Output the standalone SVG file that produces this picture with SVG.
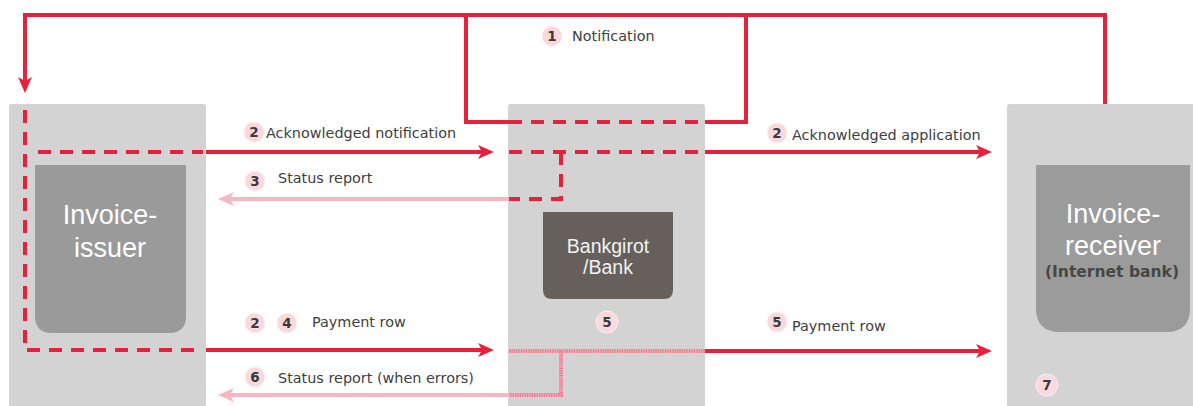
<svg xmlns="http://www.w3.org/2000/svg" width="1193" height="406" viewBox="0 0 1193 406">
<style>
.lane{fill:#d4d3d4}
.red{fill:none;stroke:#e5223b;stroke-width:4}
.dash{fill:none;stroke:#e5223b;stroke-width:4;stroke-dasharray:13 9}
.pink{fill:none;stroke:#f7b7c2;stroke-width:4}
.hatchbg{fill:none;stroke:#f4b0bc;stroke-width:4}
.hatch{fill:none;stroke:#e97b8e;stroke-width:4;stroke-dasharray:1.2 1.2}
.lbl{font-family:"DejaVu Sans",sans-serif;font-size:14.4px;fill:#404040}
.num{font-family:"DejaVu Sans",sans-serif;font-size:13.5px;font-weight:bold;fill:#3a3a3a;text-anchor:middle}
.badge{fill:#f9d8de;stroke:#fdf0f2;stroke-width:1}
.big{font-family:"Liberation Sans",Arial,sans-serif;font-size:27px;fill:#ffffff;text-anchor:middle}
.bank{font-family:"Liberation Sans",Arial,sans-serif;font-size:19.5px;fill:#f2f2f2;text-anchor:middle}
</style>
<defs>
<marker id="ar" markerUnits="userSpaceOnUse" markerWidth="18" markerHeight="16" refX="8" refY="8" orient="auto">
<path d="M0,1 L16,8 L0,15 L4,8 z" fill="#e5223b"/>
</marker>
<marker id="arp" markerUnits="userSpaceOnUse" markerWidth="18" markerHeight="16" refX="8" refY="8" orient="auto">
<path d="M0,1 L16,8 L0,15 L4,8 z" fill="#f7b7c2"/>
</marker>
</defs>

<g id="invoice-issuer">
<rect class="lane" x="9" y="104" width="197" height="304" rx="3"/>
<path d="M35,165 H186 V316 Q186,333 169,333 H52 Q35,333 35,316 Z" fill="#9a9a9a"/>
<text class="big" x="110" y="224">Invoice-</text>
<text class="big" x="110" y="257">issuer</text>
</g>

<g id="bankgirot">
<rect class="lane" x="508" y="104" width="197" height="304" rx="3"/>
<path d="M543,212 H673 V290 Q673,299 664,299 H552 Q543,299 543,290 Z" fill="#65605c"/>
<text class="bank" x="608" y="253">Bankgirot</text>
<text class="bank" x="608" y="274">/Bank</text>
</g>

<g id="invoice-receiver">
<rect class="lane" x="1007" y="104" width="190" height="304" rx="3"/>
<path d="M1036,165 H1190 V308 Q1190,332 1166,332 H1060 Q1036,332 1036,308 Z" fill="#9b9b9b"/>
<text class="big" x="1113" y="223">Invoice-</text>
<text class="big" x="1113" y="255">receiver</text>
<text x="1112" y="277" text-anchor="middle" font-family="DejaVu Sans, sans-serif" font-size="16" font-weight="bold" fill="#474747" textLength="134" lengthAdjust="spacingAndGlyphs">(Internet bank)</text>
</g>

<g id="connectors">
<path class="red" d="M1105,104 V15 H25 V85" marker-end="url(#ar)"/>
<path class="red" d="M466,15 V122 H509"/>
<path class="dash" d="M509,122 H705"/>
<path class="red" d="M705,122 H746 V15"/>
<path class="dash" d="M25,110 V350 H203"/>
<path class="dash" d="M38,152 H203"/>
<path class="red" d="M206,152 H486" marker-end="url(#ar)"/>
<path class="dash" d="M509,152 H705"/>
<path class="red" d="M705,152 H984" marker-end="url(#ar)"/>
<path class="dash" d="M561,152 V199 H509"/>
<path class="pink" d="M509,199 H226" marker-end="url(#arp)"/>
<path class="red" d="M206,350 H486" marker-end="url(#ar)"/>
<path class="hatchbg" d="M509,351 H705 M561,351 V395 H509"/>
<path class="hatch" d="M509,351 H705 M561,351 V395 H509"/>
<path class="red" d="M705,351 H984" marker-end="url(#ar)"/>
<path class="pink" d="M509,395 H226" marker-end="url(#arp)"/>
</g>

<g id="labels">
<circle class="badge" cx="552" cy="36" r="10"/><text class="num" x="552" y="41">1</text>
<text class="lbl" x="572" y="41">Notification</text>

<circle class="badge" cx="254" cy="132" r="10"/><text class="num" x="254" y="137">2</text>
<text class="lbl" x="266" y="138">Acknowledged notification</text>

<circle class="badge" cx="255" cy="181" r="10"/><text class="num" x="255" y="186">3</text>
<text class="lbl" x="278" y="183">Status report</text>

<circle class="badge" cx="777" cy="133" r="10"/><text class="num" x="777" y="138">2</text>
<text class="lbl" x="792" y="140">Acknowledged application</text>

<circle class="badge" cx="255" cy="323" r="10"/><text class="num" x="255" y="328">2</text>
<circle class="badge" cx="287" cy="323" r="10"/><text class="num" x="287" y="328">4</text>
<text class="lbl" x="312" y="327">Payment row</text>

<circle class="badge" cx="607" cy="322" r="11" stroke-width="1.5"/><text class="num" x="607" y="327">5</text>

<circle class="badge" cx="777" cy="322" r="10"/><text class="num" x="777" y="327">5</text>
<text class="lbl" x="792" y="331">Payment row</text>

<circle class="badge" cx="255" cy="377" r="10"/><text class="num" x="255" y="382">6</text>
<text class="lbl" x="278" y="383">Status report (when errors)</text>

<circle class="badge" cx="1047" cy="385" r="11" stroke-width="1.5"/><text class="num" x="1047" y="390">7</text>
</g>
</svg>
